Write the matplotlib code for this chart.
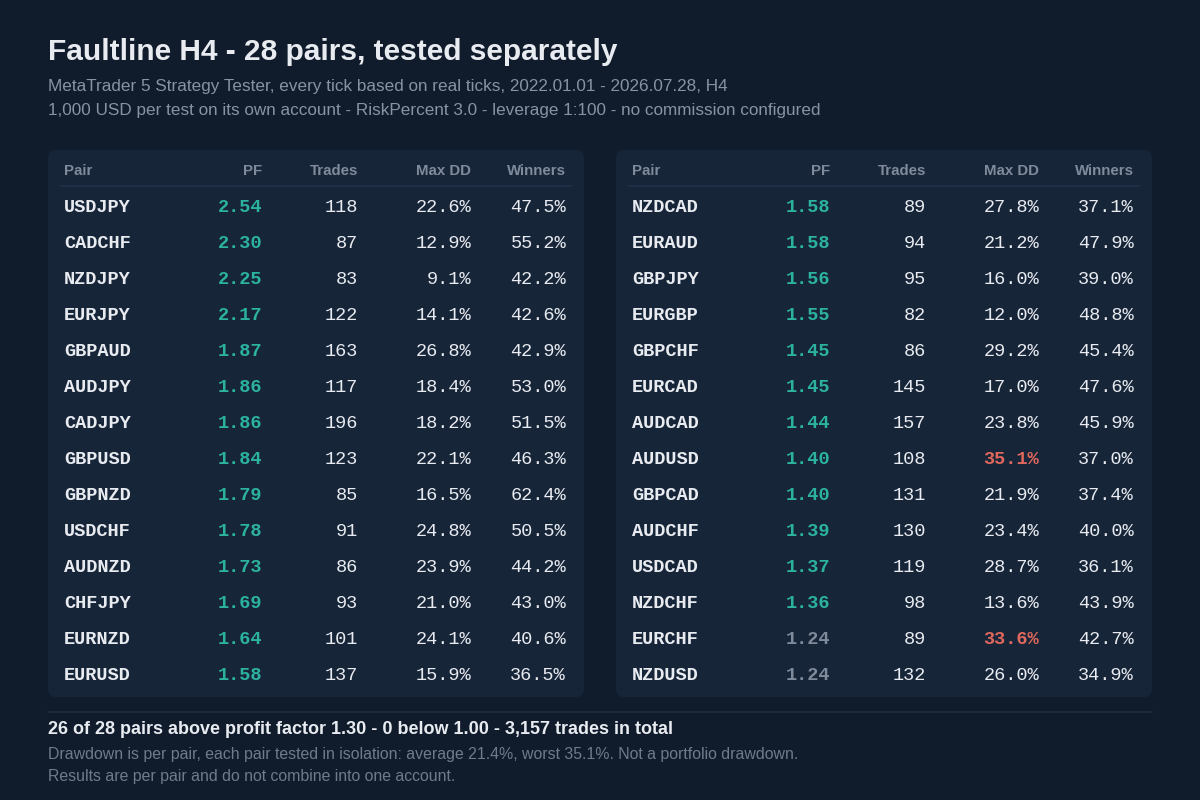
import matplotlib
matplotlib.use("Agg")
import matplotlib.pyplot as plt
from matplotlib.patches import FancyBboxPatch

# data: left table
pairs_l = ["USDJPY", "CADCHF", "NZDJPY", "EURJPY", "GBPAUD", "AUDJPY", "CADJPY",
           "GBPUSD", "GBPNZD", "USDCHF", "AUDNZD", "CHFJPY", "EURNZD", "EURUSD"]
pf_l = [2.54, 2.30, 2.25, 2.17, 1.87, 1.86, 1.86, 1.84, 1.79, 1.78, 1.73, 1.69, 1.64, 1.58]
trades_l = [118, 87, 83, 122, 163, 117, 196, 123, 85, 91, 86, 93, 101, 137]
dd_l = [22.6, 12.9, 9.1, 14.1, 26.8, 18.4, 18.2, 22.1, 16.5, 24.8, 23.9, 21.0, 24.1, 15.9]
win_l = [47.5, 55.2, 42.2, 42.6, 42.9, 53.0, 51.5, 46.3, 62.4, 50.5, 44.2, 43.0, 40.6, 36.5]

# data: right table
pairs_r = ["NZDCAD", "EURAUD", "GBPJPY", "EURGBP", "GBPCHF", "EURCAD", "AUDCAD",
           "AUDUSD", "GBPCAD", "AUDCHF", "USDCAD", "NZDCHF", "EURCHF", "NZDUSD"]
pf_r = [1.58, 1.58, 1.56, 1.55, 1.45, 1.45, 1.44, 1.40, 1.40, 1.39, 1.37, 1.36, 1.24, 1.24]
trades_r = [89, 94, 95, 82, 86, 145, 157, 108, 131, 130, 119, 98, 89, 132]
dd_r = [27.8, 21.2, 16.0, 12.0, 29.2, 17.0, 23.8, 35.1, 21.9, 23.4, 28.7, 13.6, 33.6, 26.0]
win_r = [37.1, 47.9, 39.0, 48.8, 45.4, 47.6, 45.9, 37.0, 37.4, 40.0, 36.1, 43.9, 42.7, 34.9]

columns = ["Pair", "PF", "Trades", "Max DD", "Winners"]

BG = "#101b2c"
PANEL = "#172539"
WHITE = "#e8ebf0"
GREY = "#7f8b9b"
SUB = "#8893a2"
TEAL = "#2bb3a0"
RED = "#e0675c"
SANS = ["Liberation Sans", "DejaVu Sans"]
MONO = ["Liberation Mono", "DejaVu Sans Mono"]
FS = 13.4

fig = plt.figure(figsize=(12, 8), dpi=100, facecolor=BG)
ax = fig.add_axes([0, 0, 1, 1])
ax.set_xlim(0, 1200)
ax.set_ylim(800, 0)
ax.axis("off")
ax.set_facecolor(BG)

ax.text(48, 52, "Faultline H4 - 28 pairs, tested separately", color=WHITE,
        fontsize=21.5, fontweight="bold", family=SANS, va="center")
ax.text(48, 86, "MetaTrader 5 Strategy Tester, every tick based on real ticks, 2022.01.01 - 2026.07.28, H4",
        color=SUB, fontsize=12.3, family=SANS, va="center")
ax.text(48, 110, "1,000 USD per test on its own account - RiskPercent 3.0 - leverage 1:100 - no commission configured",
        color=SUB, fontsize=12.3, family=SANS, va="center")


def draw_table(x0, pairs, pf, trades, dd, win):
    ax.add_patch(FancyBboxPatch((x0, 150), 536, 547, boxstyle="round,pad=0,rounding_size=8",
                                facecolor=PANEL, edgecolor="none"))
    # column anchors relative to panel
    col_x = [x0 + 16, x0 + 214, x0 + 310, x0 + 423, x0 + 518]
    col_ha = ["left", "right", "right", "right", "right"]
    for c, cx, ha in zip(columns, col_x, col_ha):
        ax.text(cx, 171, c, color=GREY, fontsize=10.8, fontweight="bold",
                family=SANS, ha=ha, va="center")
    ax.plot([x0 + 12, x0 + 524], [186, 186], color="#213049", lw=1.2)
    for i in range(len(pairs)):
        y = 207 + i * 36
        ax.text(col_x[0], y, pairs[i], color=WHITE, fontsize=FS, fontweight="bold",
                family=MONO, ha="left", va="center")
        ax.text(col_x[1], y, f"{pf[i]:.2f}", color=TEAL if pf[i] >= 1.30 else GREY,
                fontsize=FS, fontweight="bold", family=MONO, ha="right", va="center")
        ax.text(col_x[2], y, f"{trades[i]}", color=WHITE, fontsize=FS,
                family=MONO, ha="right", va="center")
        hot = dd[i] > 30
        ax.text(col_x[3], y, f"{dd[i]:.1f}%", color=RED if hot else WHITE, fontsize=FS,
                fontweight="bold" if hot else "normal", family=MONO, ha="right", va="center")
        ax.text(col_x[4], y, f"{win[i]:.1f}%", color=WHITE, fontsize=FS,
                family=MONO, ha="right", va="center")


draw_table(48, pairs_l, pf_l, trades_l, dd_l, win_l)
draw_table(616, pairs_r, pf_r, trades_r, dd_r, win_r)

ax.plot([48, 1152], [712, 712], color="#1f2c40", lw=1.2)
ax.text(48, 730, "26 of 28 pairs above profit factor 1.30 - 0 below 1.00 - 3,157 trades in total",
        color=WHITE, fontsize=13, fontweight="bold", family=SANS, va="center")
ax.text(48, 755, "Drawdown is per pair, each pair tested in isolation: average 21.4%, worst 35.1%. Not a portfolio drawdown.",
        color="#6f7b8b", fontsize=11.4, family=SANS, va="center")
ax.text(48, 776, "Results are per pair and do not combine into one account.",
        color="#6f7b8b", fontsize=11.4, family=SANS, va="center")

fig.savefig("out.png", dpi=100, facecolor=BG)
